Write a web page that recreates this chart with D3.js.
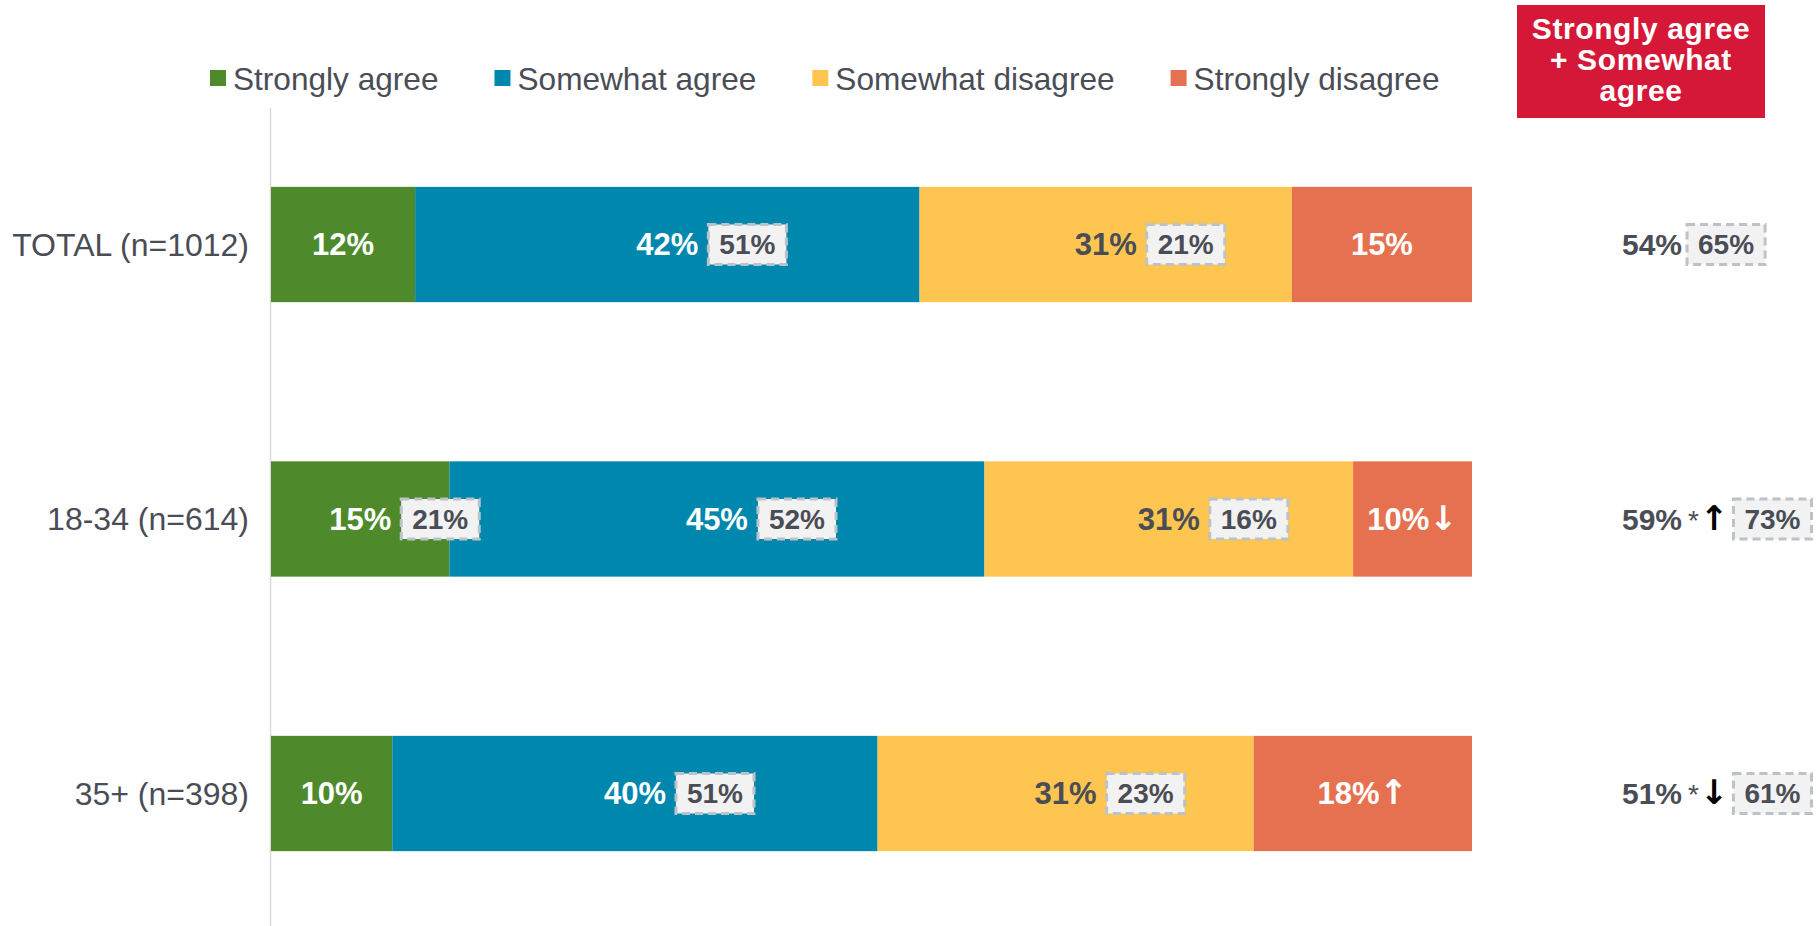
<!DOCTYPE html>
<html>
<head>
<meta charset="utf-8">
<script src="https://cdn.jsdelivr.net/npm/d3@7"></script>
<style>
  body { margin: 0; background: #fff; }
  svg { display: block; font-family: "Liberation Sans", Arial, sans-serif; }
</style>
</head>
<body>
<svg width="1816" height="926"></svg>
<script>
// Datos
const categories = ["TOTAL (n=1012)", "18-34 (n=614)", "35+ (n=398)"];
const seriesNames = ["Strongly agree", "Somewhat agree", "Somewhat disagree", "Strongly disagree"];
const stronglyAgree = [12, 15, 10];
const somewhatAgree = [42, 45, 40];
const somewhatDisagree = [31, 31, 31];
const stronglyDisagree = [15, 10, 18];
// valores de comparación (cajas punteadas), null = sin caja
const compStronglyAgree = [null, 21, null];
const compSomewhatAgree = [51, 52, 51];
const compSomewhatDisagree = [21, 16, 23];
const compStronglyDisagree = [null, null, null];
// flechas de significancia
const sigStronglyAgree = ["", "", ""];
const sigSomewhatAgree = ["", "", ""];
const sigSomewhatDisagree = ["", "", ""];
const sigStronglyDisagree = ["", "↓", "↑"];
// columna de la derecha
const netTitle = ["Strongly agree", "+ Somewhat", "agree"];
const netAgree = [54, 59, 51];
const netStar = ["", "*", "*"];
const netArrow = ["", "↑", "↓"];
const netComp = [65, 73, 61];

const colors = ["#4e8a2c", "#0087ad", "#fec650", "#e67150"];
const labelColors = ["#fff", "#fff", "#4a4d55", "#fff"];
const darkText = "#4a4d55";
const arrowFont = "'DejaVu Sans', sans-serif";

const valuesBySeries = [stronglyAgree, somewhatAgree, somewhatDisagree, stronglyDisagree];
const compBySeries = [compStronglyAgree, compSomewhatAgree, compSomewhatDisagree, compStronglyDisagree];
const sigBySeries = [sigStronglyAgree, sigSomewhatAgree, sigSomewhatDisagree, sigStronglyDisagree];

const rows = categories.map((c, i) => {
  const r = { cat: c, idx: i };
  seriesNames.forEach((s, j) => r[s] = valuesBySeries[j][i]);
  return r;
});

const svg = d3.select("svg");

// Escalas
const x = d3.scaleLinear().domain([0, 1]).range([271, 1472]);
const y = d3.scaleBand().domain(categories).range([110, 928])
  .paddingInner(0.58).paddingOuter(0.28);

const stack = d3.stack().keys(seriesNames).offset(d3.stackOffsetExpand);
const series = stack(rows);

// Línea del eje
svg.append("line")
  .attr("x1", 270.5).attr("x2", 270.5)
  .attr("y1", 108).attr("y2", 926)
  .attr("stroke", "#d9d9d9").attr("stroke-width", 1.5);

// Barras
svg.append("g")
  .selectAll("g")
  .data(series)
  .join("g")
  .attr("fill", (d, i) => colors[i])
  .selectAll("rect")
  .data(d => d)
  .join("rect")
  .attr("x", d => x(d[0]))
  .attr("y", d => y(d.data.cat))
  .attr("width", d => x(d[1]) - x(d[0]))
  .attr("height", y.bandwidth());

// caja punteada con valor
function compBox(g, xLeft, cy, value) {
  const t = g.append("text")
    .attr("y", cy)
    .attr("dy", "0.35em")
    .attr("text-anchor", "middle")
    .attr("font-size", 28)
    .attr("font-weight", "bold")
    .attr("fill", darkText)
    .text(value + "%");
  const w = t.node().getComputedTextLength() + 22;
  g.insert("rect", "text")
    .attr("x", xLeft).attr("y", cy - 20)
    .attr("width", w).attr("height", 40)
    .attr("fill", "#f2f2f2")
    .attr("stroke", "#bcc2c8")
    .attr("stroke-width", 3)
    .attr("stroke-dasharray", "8,5");
  t.attr("x", xLeft + w / 2);
  return w;
}

// Etiquetas de segmentos
const labels = svg.append("g");
series.forEach((s, j) => {
  s.forEach((d, i) => {
    const cx = (x(d[0]) + x(d[1])) / 2;
    const cy = y(d.data.cat) + y.bandwidth() / 2;
    const g = labels.append("g");
    const t = g.append("text")
      .attr("x", cx).attr("y", cy)
      .attr("dy", "0.35em")
      .attr("text-anchor", "middle")
      .attr("font-size", 31)
      .attr("font-weight", "bold")
      .attr("fill", labelColors[j]);
    t.append("tspan").text(valuesBySeries[j][i] + "%");
    if (sigBySeries[j][i]) {
      t.append("tspan")
        .attr("font-family", arrowFont)
        .attr("font-size", 34)
        .text(sigBySeries[j][i]);
    }
    const comp = compBySeries[j][i];
    if (comp != null) {
      const tw = t.node().getComputedTextLength();
      compBox(g, cx + tw / 2 + 10, cy, comp);
    }
  });
});

// Categorías
svg.append("g")
  .selectAll("text")
  .data(categories)
  .join("text")
  .attr("x", 249)
  .attr("y", d => y(d) + y.bandwidth() / 2)
  .attr("dy", "0.35em")
  .attr("text-anchor", "end")
  .attr("font-size", 32)
  .attr("fill", darkText)
  .text(d => d);

// Leyenda
const legend = svg.append("g");
let lx = 210;
seriesNames.forEach((s, j) => {
  legend.append("rect")
    .attr("x", lx).attr("y", 70)
    .attr("width", 16).attr("height", 16)
    .attr("fill", colors[j]);
  const t = legend.append("text")
    .attr("x", lx + 23).attr("y", 90)
    .attr("font-size", 31.6)
    .attr("fill", darkText)
    .text(s);
  lx += 23 + t.node().getComputedTextLength() + 56;
});

// Cabecera roja
const head = svg.append("g");
head.append("rect")
  .attr("x", 1517).attr("y", 5)
  .attr("width", 248).attr("height", 113)
  .attr("fill", "#d51837");
head.selectAll("text")
  .data(netTitle)
  .join("text")
  .attr("x", 1641)
  .attr("y", (d, i) => 39 + i * 31)
  .attr("text-anchor", "middle")
  .attr("font-size", 30)
  .attr("font-weight", "bold")
  .attr("letter-spacing", 0.6)
  .attr("fill", "#fff")
  .text(d => d);

// Columna de la derecha
const net = svg.append("g");
categories.forEach((c, i) => {
  const cy = y(c) + y.bandwidth() / 2;
  const g = net.append("g");
  const t = g.append("text")
    .attr("x", 1622).attr("y", cy)
    .attr("dy", "0.35em")
    .attr("font-size", 30)
    .attr("font-weight", "bold")
    .attr("fill", darkText);
  t.append("tspan").text(netAgree[i] + "%");
  let extra = 0;
  if (netStar[i]) {
    t.append("tspan").attr("dx", 6).attr("font-weight", "normal").attr("font-size", 28).text(netStar[i]);
    t.append("tspan").attr("dx", 1)
      .attr("font-family", arrowFont)
      .attr("font-size", 34)
      .attr("fill", "#000")
      .text(netArrow[i]);
    extra = 7;
  }
  const tw = t.node().getComputedTextLength() + extra;
  compBox(g, 1622 + tw + 5, cy, netComp[i]);
});
</script>
</body>
</html>
